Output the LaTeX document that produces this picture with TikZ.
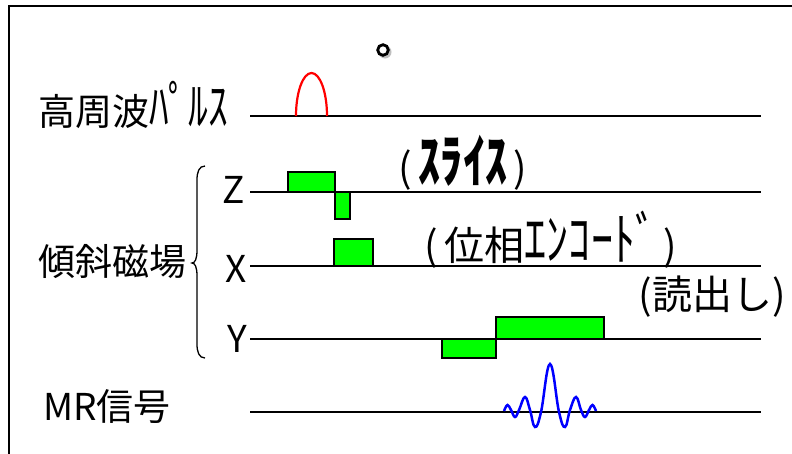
\documentclass[tikz,border=0pt]{standalone}
\usepackage{fontspec}
\setmainfont{Noto Sans CJK JP}
\newfontfamily\hkfont[FakeStretch=0.76]{Noto Sans CJK JP}
\usepackage{tikz}
\usetikzlibrary{positioning, calc}
\definecolor{lobegreen}{HTML}{00FF00}
\definecolor{rfred}{HTML}{FF0000}
\definecolor{echoblue}{HTML}{0000FF}
\newcommand{\hkl}[1]{{\hkfont\fontsize{52}{52}\selectfont #1}}
\newcommand{\hkn}[1]{{\hkfont\fontsize{58}{58}\selectfont #1}}

\begin{document}
\begin{tikzpicture}[x=1pt, y=-1pt,
  axis/.style={line width=2.5pt, draw=black},
  lobe/.style={draw=black, line width=2pt, fill=lobegreen},
  lbl/.style={inner sep=0pt, font=\fontsize{37}{37}\selectfont},
  note/.style={inner sep=0pt, font=\fontsize{40}{40}\selectfont}]
  \useasboundingbox (0,0) rectangle (792,453);
  \draw[line width=2pt] (9,6) rectangle (820,480);
  \fill[black!25] (385,52) circle (6.5pt);
  \draw[line width=2.8pt, fill=white] (383,50) circle (5.3pt);
  % time axes
  \foreach \name/\y in {rf/116, z/192, x/266, y/339, mr/412} {
    \coordinate (\name-s) at (250,\y);
    \coordinate (\name-e) at (761,\y);
    \draw[axis] (\name-s) -- (\name-e);
  }
  % row labels
  \node[lbl, anchor=base west] (rf-lbl) at (38,125.5) {高周波\hkl{ﾊﾟﾙｽ}};
  \node[lbl, anchor=west] (grad-lbl) at (38,262) {傾斜磁場};
  \node[lbl, anchor=west] (mr-lbl) at (43,407) {MR信号};
  \node[lbl, anchor=east] (z-lbl) at (245,190) {Z};
  \node[lbl, anchor=east] (x-lbl) at (247,269) {X};
  \node[lbl, anchor=east] (y-lbl) at (247,339) {Y};
  \draw[line width=1.3pt] (205,166) .. controls (199,166) and (197,172) .. (197,180)
    -- (197,250) .. controls (197,259) and (195,263) .. (192,263)
    .. controls (195,263) and (197,267) .. (197,276)
    -- (197,344) .. controls (197,352) and (199,358) .. (205,358);
  % pulse and lobes
  \draw[rfred, line width=2.2pt] (296,116) .. controls (296,92) and (303,73) .. (311.5,73)
    .. controls (320,73) and (327,92) .. (327,116);
  \draw[lobe] (288,172) rectangle (335,192);
  \draw[lobe] (335,192) rectangle (350,219);
  \draw[lobe] (334,239) rectangle (373,266);
  \draw[lobe] (442,339) rectangle (496,358);
  \draw[lobe] (496,317) rectangle (604,339);
  \draw[echoblue, line width=2.5pt] plot[smooth, tension=0.7] coordinates {
    (504,411) (507.5,405) (511,410) (515,417) (519,410) (525,397) (530,410)
    (535,427) (541,412) (550,364) (559,412) (565,427) (570,410) (576,397)
    (581,410) (585,417) (589,410) (592.5,405) (596,411)};
  % annotations
  \node[note, anchor=base] (slice) at (463,182) {(\,{\bfseries\hkn{ｽﾗｲｽ}}\,)};
  \node[note, anchor=base] (phase) at (551,260) {(\,位相\hkn{ｴﾝｺｰﾄﾞ}\,)};
  \node[note] (read) at (712,297) {(読出し)};
\end{tikzpicture}
\end{document}
